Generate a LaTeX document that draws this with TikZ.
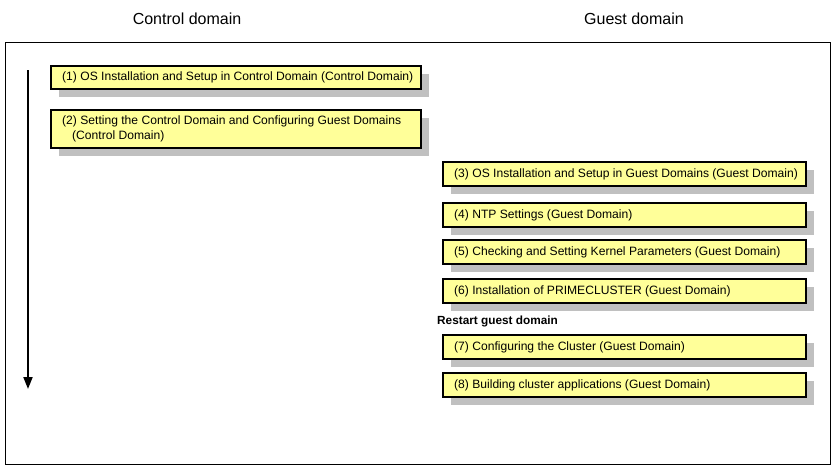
\documentclass[tikz,border=0pt]{standalone}
\usepackage{fontspec}
\setmainfont{Liberation Sans}
\usetikzlibrary{arrows.meta}
\definecolor{boxfill}{HTML}{FFFF99}
\definecolor{shadowgray}{HTML}{C0C0C0}
\tikzset{
  steptext/.style={anchor=west, inner sep=0pt, align=left,
    font=\fontsize{12.1}{14}\selectfont},
  title/.style={font=\fontsize{16}{19}\selectfont},
}
\newcommand{\stepnode}[6]{%
  % #1 name, #2 x1, #3 y1, #4 x2, #5 y2, #6 text
  \fill[shadowgray] (#2+8,#3+8) rectangle (#4+8,#5+8);
  \draw[line width=1.2pt, fill=boxfill] (#2,#3) rectangle (#4,#5);
  \node[steptext] (#1) at (#2+11,{(#3+#5)/2}) {#6};
}
\begin{document}
\begin{tikzpicture}[x=1pt,y=-1pt]
\useasboundingbox (0,0) rectangle (836,467);
\node[title] (tc) at (187,19) {Control domain};
\node[title] (tg) at (634,19) {Guest domain};
\draw[line width=1pt] (5,42) rectangle (830,464);
\coordinate (a1) at (28,70);
\coordinate (a2) at (28,389);
\draw[line width=2pt, -{Triangle[length=12pt,width=9pt]}] (a1) -- (a2);
\stepnode{s1}{51}{66}{421}{89}{(1) OS Installation and Setup in Control Domain (Control Domain)}
\stepnode{s2}{51}{110}{421}{148}{(2) Setting the Control Domain and Configuring Guest Domains\\[1.5pt]\makebox[10pt]{}(Control Domain)}
\stepnode{s3}{443}{162}{806}{186}{(3) OS Installation and Setup in Guest Domains (Guest Domain)}
\stepnode{s4}{443}{203}{806}{227}{(4) NTP Settings (Guest Domain)}
\stepnode{s5}{443}{240}{806}{264}{(5) Checking and Setting Kernel Parameters (Guest Domain)}
\stepnode{s6}{443}{279}{806}{303}{(6) Installation of PRIMECLUSTER (Guest Domain)}
\node[anchor=west, inner sep=0pt, font=\bfseries\fontsize{11.8}{13}\selectfont] (rs) at (437,321) {Restart guest domain};
\stepnode{s7}{443}{335}{806}{359}{(7) Configuring the Cluster (Guest Domain)}
\stepnode{s8}{443}{373}{806}{397}{(8) Building cluster applications (Guest Domain)}
\end{tikzpicture}
\end{document}
